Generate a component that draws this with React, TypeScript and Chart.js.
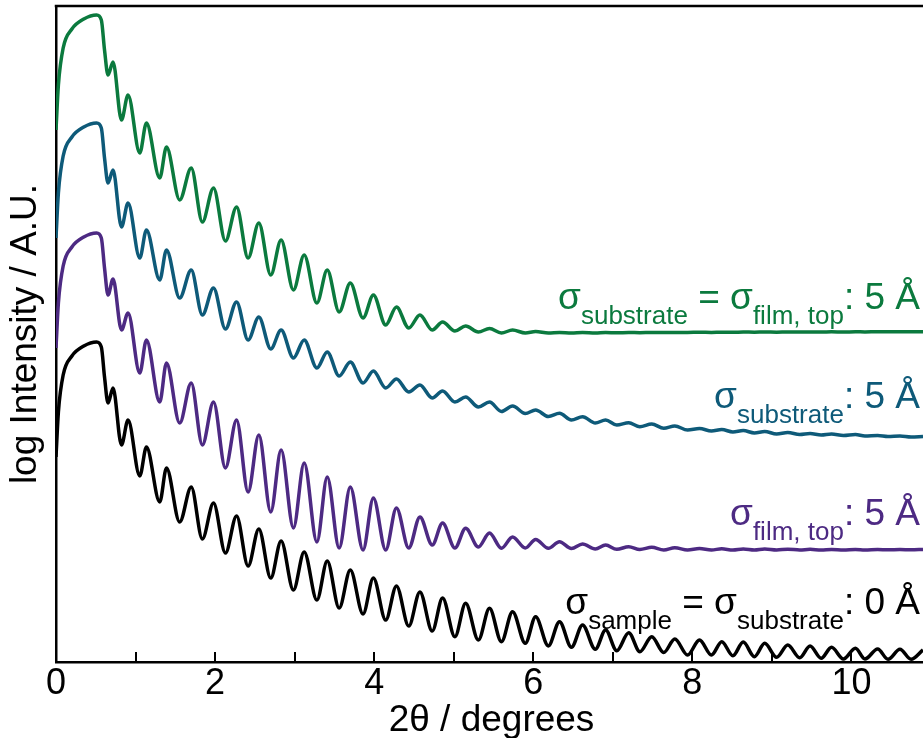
import React, { useEffect, useRef } from "react";
import { Chart, registerables } from "chart.js";

Chart.register(...registerables);

// 2θ positions (degrees) of the points (fringe maxima / minima)
const twoTheta = [
  0, 0.03, 0.09, 0.2, 0.35, 0.51, 0.57, 0.61,
  0.654, 0.717, 0.823, 0.906, 1.053, 1.137, 1.304, 1.389, 1.555, 1.7, 1.84, 1.98,
  2.13, 2.27, 2.415, 2.55, 2.7, 2.83, 2.985, 3.12, 3.28, 3.41, 3.56, 3.7, 3.86, 3.99, 4.145, 4.28, 4.435, 4.575, 4.73, 4.86,
  5.015, 5.15, 5.31, 5.45, 5.6, 5.74, 5.9, 6.03, 6.19, 6.33, 6.48, 6.62, 6.78, 6.91, 7.05, 7.2, 7.34, 7.49, 7.64, 7.78,
  7.94, 8.09, 8.24, 8.37, 8.51, 8.64, 8.78, 8.91, 9.06, 9.2, 9.35, 9.48, 9.62, 9.75, 9.9, 10.05, 10.17, 10.33, 10.46, 10.61, 10.75, 10.9,
];

// log intensity (arbitrary units, curves offset vertically)
const substrateAndFilmTop5 = [
  532, 577, 614, 633, 643, 647, 642, 612,
  587, 600, 542, 567, 509, 539, 484, 515, 462, 494, 440, 474,
  421, 455, 404, 439, 387, 422, 372, 407, 359, 392, 350, 379, 344, 367, 337, 355, 334, 347, 332, 340,
  331, 336, 330, 333.5, 329, 332, 329, 330.5, 329, 329.5, 329, 329.5, 329, 329.5, 329.2, 329.5, 329.3, 329.6, 329.4, 329.6,
  329.5, 329.8, 329.6, 329.8, 329.7, 330, 329.8, 330, 329.8, 330, 329.9, 330.1, 330, 330.2, 330, 330.2, 330.1, 330.3, 330.2, 330.3, 330.2, 330.3,
];

const substrate5 = [
  424, 469, 506, 525, 535, 539, 534, 504,
  479, 492, 435, 459, 404, 432, 382, 412, 364, 392, 347, 374,
  333, 360, 322, 345, 313, 332, 304, 322, 294, 310, 286, 300, 279, 291, 274, 283, 270, 277, 264, 271,
  260, 265, 255, 260, 250.5, 256, 248.5, 252, 245.5, 248.7, 242, 245.3, 239, 242, 237, 239.3, 235.3, 238, 233.7, 236,
  232, 233.5, 231, 232.5, 230, 231.5, 229, 230.5, 228, 229.5, 227.5, 228.5, 227, 228, 226.5, 227.5, 226, 226.5, 225.5, 226, 225, 225.5,
];

const filmTop5 = [
  314, 359, 396, 415, 425, 429, 424, 394,
  367, 383, 332, 349, 289, 322, 260, 299, 239, 279, 217, 260,
  194, 242, 170, 227, 150, 212, 134, 199, 120, 185, 114, 175, 112, 164, 112, 154, 114, 145, 117, 139,
  114, 133.7, 115, 129, 113.7, 125, 114, 122.5, 113.7, 120.3, 113.5, 118, 113, 117, 112.7, 115.3, 112.5, 114.7, 112, 114.3,
  112, 113.5, 112, 113.2, 112, 113, 112, 113, 112, 112.8, 112, 112.7, 112, 112.6, 112, 112.5, 112, 112.5, 112.2, 112.5, 112.2, 112.5,
];

const sampleSubstrate0 = [
  205, 250, 287, 306, 316, 320, 315, 285,
  259, 274, 217, 242, 186, 215, 160, 194, 140, 175, 123, 159,
  109, 146, 96, 133, 84, 121, 72, 110, 62, 101, 54, 92, 48, 84, 42, 76, 36, 70, 31, 64,
  25.3, 58.7, 22, 53.7, 20.3, 50.3, 18.7, 45.3, 16, 40.3, 14.7, 37, 12.7, 32, 11.3, 29.3, 10.3, 25.3, 9.5, 23,
  7, 22, 7, 20.3, 6.3, 20, 5.3, 18.7, 4.7, 17, 4.3, 16, 3.7, 14.7, 3, 13.7, 3, 13, 2.7, 12.7, 2.7, 12,
];

const xTickLabels = [0, 2, 4, 6, 8, 10];
const innerTicks = [1, 2, 3, 4, 5, 6, 7, 8, 9, 10];

const GREEN = "#0b7a3e";
const BLUE = "#0e5a79";
const PURPLE = "#4d2a83";
const BLACK = "#000000";
const FONT = "'Liberation Sans', Arial, Helvetica, sans-serif";

const xTitle = "2θ / degrees";
const yTitle = "log Intensity / A.U.";

// text runs: [text, isSubscript]
const labelGreen: [string, boolean][] = [["σ", false], ["substrate", true], [" = σ", false], ["film, top", true], [": 5 Å", false]];
const labelBlue: [string, boolean][] = [["σ", false], ["substrate", true], [": 5 Å", false]];
const labelPurple: [string, boolean][] = [["σ", false], ["film, top", true], [": 5 Å", false]];
const labelBlack: [string, boolean][] = [["σ", false], ["sample", true], [" = σ", false], ["substrate", true], [": 0 Å", false]];
const labelLevels = [353, 254, 137, 48];

export default function App() {
  const ref = useRef<HTMLCanvasElement | null>(null);

  useEffect(() => {
    if (!ref.current) return;
    const mk = (arr: number[]) => twoTheta.map((x, i) => ({ x, y: arr[i] }));

    const framePlugin = {
      id: "frameAndNotes",
      afterDraw(chart: any) {
        const { ctx, chartArea } = chart;
        const { left, right, top, bottom } = chartArea;
        const xs = chart.scales.x;
        const ys = chart.scales.y;
        ctx.save();
        ctx.strokeStyle = "#000";
        ctx.lineWidth = 2.5;
        ctx.beginPath();
        ctx.moveTo(left - 1.25, top);
        ctx.lineTo(right + 2, top);
        ctx.stroke();
        ctx.lineWidth = 2;
        ctx.beginPath();
        for (const v of innerTicks) {
          const px = Math.round(xs.getPixelForValue(v));
          ctx.moveTo(px, bottom);
          ctx.lineTo(px, bottom - 10);
        }
        ctx.stroke();

        // x-axis title
        ctx.fillStyle = "#000";
        ctx.font = `37px ${FONT}`;
        ctx.textAlign = "center";
        ctx.textBaseline = "alphabetic";
        ctx.fillText(xTitle, (left + right) / 2 + 2, 731);

        const notes = [
          { runs: labelGreen, color: GREEN, level: labelLevels[0] },
          { runs: labelBlue, color: BLUE, level: labelLevels[1] },
          { runs: labelPurple, color: PURPLE, level: labelLevels[2] },
          { runs: labelBlack, color: BLACK, level: labelLevels[3] },
        ];
        const mainFont = `37px ${FONT}`;
        const subFont = `26px ${FONT}`;
        const rightX = 920;
        ctx.textAlign = "left";
        for (const n of notes) {
          let total = 0;
          for (const [t, sub] of n.runs) {
            ctx.font = sub ? subFont : mainFont;
            total += ctx.measureText(t).width;
          }
          let x = rightX - total;
          const base = ys.getPixelForValue(n.level);
          ctx.fillStyle = n.color;
          for (const [t, sub] of n.runs) {
            ctx.font = sub ? subFont : mainFont;
            ctx.fillText(t, x, sub ? base + 15 : base);
            x += ctx.measureText(t).width;
          }
        }
        ctx.restore();
      },
    };

    const ds = (data: number[], color: string) => ({
      data: mk(data),
      borderColor: color,
      borderWidth: 3.5,
      pointRadius: 0,
      fill: false,
      cubicInterpolationMode: "monotone" as const,
    });

    const chart = new Chart(ref.current, {
      type: "line",
      data: {
        datasets: [
          ds(substrateAndFilmTop5, GREEN),
          ds(substrate5, BLUE),
          ds(filmTop5, PURPLE),
          ds(sampleSubstrate0, BLACK),
        ],
      },
      options: {
        animation: false,
        responsive: false,
        devicePixelRatio: 1,
        layout: { padding: { top: 6, left: 0, right: 0, bottom: 0 } },
        plugins: { legend: { display: false }, tooltip: { enabled: false } },
        scales: {
          x: {
            type: "linear",
            min: 0,
            max: 10.9,
            grid: { display: true, drawOnChartArea: false, drawTicks: false, color: "rgba(0,0,0,0)" },
            border: { display: true, color: "#000", width: 2.5 },
            afterBuildTicks: (scale: any) => {
              scale.ticks = xTickLabels.map((v) => ({ value: v }));
            },
            ticks: {
              color: "#000",
              font: { size: 36, family: FONT },
              padding: 0,
              maxRotation: 0,
              autoSkip: false,
              includeBounds: false,
            },
            title: { display: false },
            afterFit: (scale: any) => {
              scale.height = 76;
            },
          },
          y: {
            type: "linear",
            min: 0,
            max: 656,
            grid: { display: true, drawOnChartArea: false, drawTicks: false, color: "rgba(0,0,0,0)" },
            border: { display: true, color: "#000", width: 2.5 },
            ticks: { display: false },
            title: {
              display: true,
              text: yTitle,
              color: "#000",
              font: { size: 37, family: FONT },
              padding: { top: 4, bottom: 0 },
            },
            afterFit: (scale: any) => {
              scale.width = 56;
            },
          },
        },
      },
      plugins: [framePlugin],
    });
    return () => chart.destroy();
  }, []);

  return (
    <div style={{ position: "absolute", left: 0, top: 0, width: 923, height: 738, background: "#fff" }}>
      <canvas ref={ref} width={923} height={738} style={{ display: "block" }} />
    </div>
  );
}
